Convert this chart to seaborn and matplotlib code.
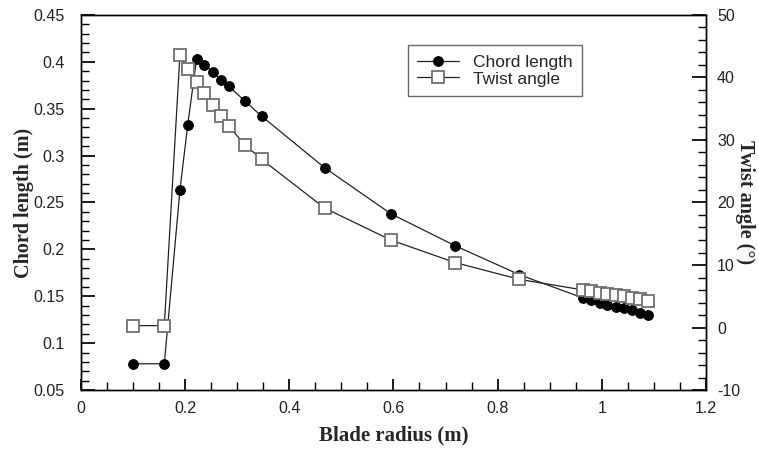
import seaborn as sns
import matplotlib.pyplot as plt
import pandas as pd
from matplotlib.ticker import MultipleLocator

# Blade geometry
radius = [0.1, 0.16, 0.19, 0.205, 0.222, 0.237, 0.254, 0.269, 0.284, 0.315, 0.347,
          0.468, 0.595, 0.718, 0.842,
          0.965, 0.98, 0.996, 1.011, 1.027, 1.042, 1.058, 1.073, 1.089]
chord = [0.078, 0.078, 0.263, 0.333, 0.403, 0.397, 0.389, 0.381, 0.374, 0.358, 0.342,
         0.287, 0.238, 0.204, 0.173,
         0.148, 0.146, 0.143, 0.141, 0.139, 0.137, 0.135, 0.132, 0.130]
twist = [0.3, 0.3, 43.6, 41.3, 39.2, 37.5, 35.6, 33.8, 32.2, 29.2, 26.9,
         19.1, 14.0, 10.4, 7.7,
         6.0, 5.8, 5.6, 5.4, 5.2, 5.0, 4.8, 4.6, 4.3]

df = pd.DataFrame({"radius": radius, "chord": chord, "twist": twist})

sns.set_theme(style="white")
plt.rcParams["axes.unicode_minus"] = False
tick_font = ["Liberation Sans", "DejaVu Sans"]
label_font = ["Liberation Serif", "DejaVu Serif"]

fig, ax = plt.subplots(figsize=(7.59, 4.53), dpi=100)
fig.subplots_adjust(left=0.1067, right=0.930, top=0.967, bottom=0.139)
ax2 = ax.twinx()

sns.lineplot(data=df, x="radius", y="chord", ax=ax, sort=False, estimator=None,
             color="#222222", lw=0.9, marker="o", markersize=7,
             markerfacecolor="black", markeredgecolor="black", label="Chord length",
             legend=False)
sns.lineplot(data=df, x="radius", y="twist", ax=ax2, sort=False, estimator=None,
             color="#222222", lw=0.9, marker="s", markersize=8.5,
             markerfacecolor="white", markeredgecolor="#707070", markeredgewidth=1.3,
             label="Twist angle", legend=False)

ax.set_xlim(0, 1.2)
ax.set_ylim(0.05, 0.45)
ax2.set_ylim(-10, 50)

ax.xaxis.set_major_locator(MultipleLocator(0.2))
ax.xaxis.set_minor_locator(MultipleLocator(0.05))
ax.yaxis.set_major_locator(MultipleLocator(0.05))
ax.yaxis.set_minor_locator(MultipleLocator(0.01))
ax2.yaxis.set_major_locator(MultipleLocator(10))
ax2.yaxis.set_minor_locator(MultipleLocator(2))

ax.xaxis.set_major_formatter(plt.FuncFormatter(lambda v, p: f"{v:g}"))
ax.yaxis.set_major_formatter(plt.FuncFormatter(lambda v, p: f"{v:g}"))

for a in (ax, ax2):
    for s in a.spines.values():
        s.set_color("black")
        s.set_linewidth(1.0)

ax.tick_params(axis="x", which="both", direction="in", bottom=True, top=False,
               color="black", pad=8, labelsize=11.5)
ax.tick_params(axis="x", which="major", length=8)
ax.tick_params(axis="x", which="minor", length=6)
ax.tick_params(axis="y", which="both", direction="in", left=True, right=False,
               color="black", pad=12, labelsize=11.5)
ax.tick_params(axis="y", which="major", length=10)
ax.tick_params(axis="y", which="minor", length=6)
ax2.tick_params(axis="y", which="both", direction="in", right=True, left=False,
                color="black", pad=8, labelsize=11.5)
ax2.tick_params(axis="y", which="major", length=10)
ax2.tick_params(axis="y", which="minor", length=6)

for lab in ax.get_xticklabels() + ax.get_yticklabels() + ax2.get_yticklabels():
    lab.set_family(tick_font)
    lab.set_color("#222222")

ax.set_xlabel("Blade radius (m)", family=label_font, fontweight="bold", fontsize=15,
              labelpad=7)
ax.set_ylabel("Chord length (m)", family=label_font, fontweight="bold", fontsize=14.5,
              labelpad=-1)
ax2.set_ylabel("Twist angle (°)", family=label_font, fontweight="bold", fontsize=14.5,
               rotation=270, labelpad=11)

h1, l1 = ax.get_legend_handles_labels()
h2, l2 = ax2.get_legend_handles_labels()
leg = ax2.legend(h1 + h2, l1 + l2, loc="upper left", bbox_to_anchor=(0.523, 0.92),
                 borderaxespad=0, frameon=True, fancybox=False, edgecolor="#444444",
                 handlelength=2.4, borderpad=0.55, labelspacing=0.1,
                 prop={"family": tick_font, "size": 12.5})
leg.get_frame().set_linewidth(1.0)

fig.savefig("out.png", dpi=100)
